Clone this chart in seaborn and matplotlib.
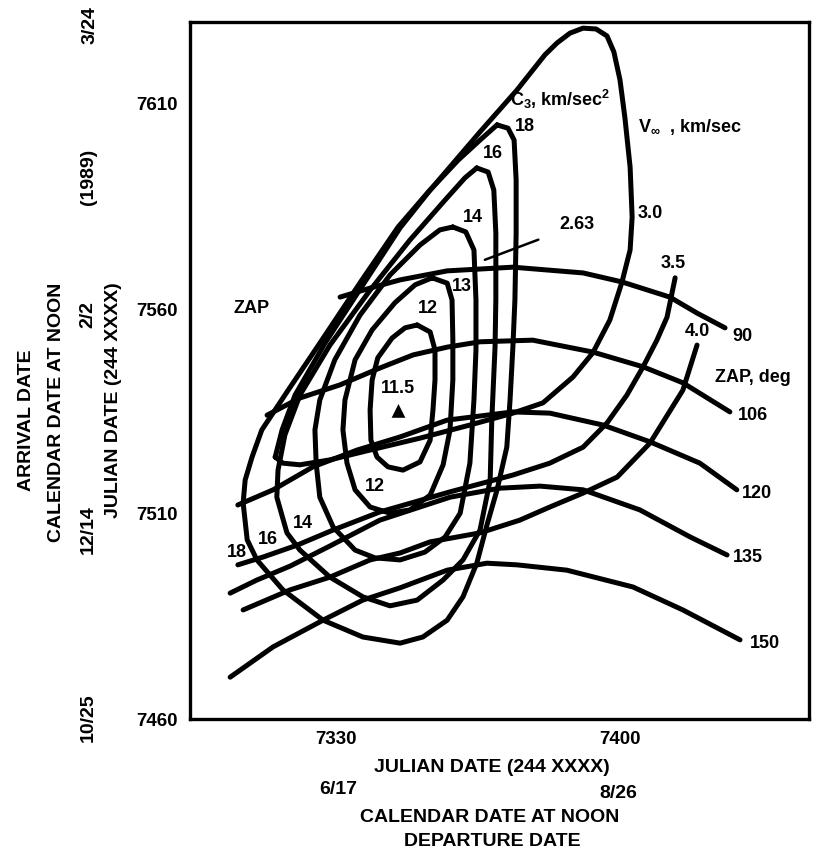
import pandas as pd
import seaborn as sns
import matplotlib.pyplot as plt

# Julian dates (244 xxxx): departure on x, arrival on y

# C3 contours, km/sec^2
c3_12_dep = [7350.0, 7353.2, 7354.4, 7354.4, 7353.9, 7353.2, 7350.7, 7346.5, 7342.8, 7340.1, 7338.6, 7338.4, 7338.9, 7340.3, 7343.8, 7347.0, 7350.0]
c3_12_arr = [7556.1, 7554.4, 7550.0, 7542.7, 7535.4, 7528.0, 7522.7, 7520.7, 7521.5, 7523.9, 7528.0, 7535.4, 7542.7, 7548.1, 7552.9, 7555.4, 7556.1]

c3_13_dep = [7353.7, 7357.4, 7358.6, 7358.8, 7358.8, 7358.1, 7356.4, 7353.2, 7348.2, 7343.3, 7338.4, 7334.7, 7332.7, 7331.7, 7332.2, 7334.7, 7338.9, 7344.5, 7349.5, 7353.7]
c3_13_arr = [7567.6, 7566.3, 7562.2, 7552.4, 7542.7, 7530.5, 7522.0, 7514.6, 7511.0, 7510.2, 7511.7, 7515.9, 7522.4, 7530.5, 7537.8, 7547.6, 7554.9, 7561.5, 7565.9, 7567.6]

c3_14_dep = [7358.8, 7362.0, 7364.0, 7364.5, 7364.5, 7364.0, 7363.0, 7360.6, 7356.9, 7351.9, 7345.8, 7339.6, 7334.7, 7329.3, 7326.0, 7325.1, 7324.8, 7326.0, 7329.7, 7335.9, 7343.3, 7350.7, 7355.6, 7358.8]
c3_14_arr = [7580.0, 7578.8, 7574.4, 7562.2, 7550.0, 7537.8, 7522.4, 7510.2, 7504.4, 7500.7, 7498.8, 7499.3, 7501.2, 7506.8, 7514.1, 7522.4, 7530.5, 7537.8, 7547.6, 7558.5, 7568.3, 7575.6, 7579.3, 7580.0]

c3_16_dep = [7364.7, 7367.5, 7368.9, 7369.4, 7369.4, 7369.2, 7368.4, 7368.0, 7365.5, 7361.3, 7356.4, 7350.0, 7343.3, 7336.6, 7328.5, 7321.1, 7317.9, 7315.4, 7315.7, 7317.4, 7321.1, 7328.5, 7338.4, 7348.2, 7356.9, 7361.8, 7364.7]
c3_16_arr = [7594.4, 7593.4, 7589.0, 7578.5, 7562.2, 7550.7, 7532.9, 7518.3, 7506.1, 7498.8, 7493.9, 7489.0, 7487.6, 7489.8, 7494.6, 7501.2, 7505.4, 7514.1, 7520.7, 7529.3, 7539.0, 7551.2, 7564.6, 7576.8, 7586.6, 7592.0, 7594.4]

c3_18_dep = [7369.7, 7372.4, 7373.9, 7374.4, 7374.4, 7374.1, 7373.6, 7372.9, 7372.1, 7369.7, 7367.2, 7364.7, 7361.3, 7357.4, 7351.4, 7345.8, 7336.6, 7326.8, 7316.9, 7310.5, 7308.1, 7307.1, 7307.6, 7309.3, 7311.7, 7318.2, 7326.5, 7336.4, 7345.3, 7352.7, 7360.1, 7365.5, 7369.7]
c3_18_arr = [7604.9, 7604.1, 7601.2, 7591.5, 7578.5, 7562.2, 7550.7, 7537.8, 7526.3, 7515.9, 7507.3, 7498.0, 7489.8, 7484.1, 7480.0, 7478.5, 7480.0, 7484.1, 7491.5, 7498.8, 7503.7, 7512.7, 7518.3, 7523.9, 7530.5, 7540.2, 7552.4, 7567.1, 7580.0, 7588.5, 7596.3, 7601.2, 7604.9]

# V-infinity contours, km/sec
v30_dep = [7315.0, 7316.7, 7319.9, 7327.3, 7337.1, 7345.8, 7353.2, 7365.5, 7374.6, 7381.5, 7384.5, 7387.7, 7390.9, 7394.1, 7396.8, 7398.5, 7400.0, 7401.2, 7402.5, 7403.0, 7402.5, 7400.5, 7397.5, 7393.3, 7388.4, 7381.0, 7373.6, 7363.0, 7350.7, 7338.4, 7328.5, 7321.1, 7316.9, 7315.0]
v30_arr = [7523.9, 7530.5, 7539.0, 7551.7, 7566.6, 7579.8, 7589.0, 7603.2, 7613.4, 7622.0, 7624.9, 7627.3, 7628.5, 7628.3, 7626.6, 7622.7, 7615.9, 7606.8, 7594.6, 7582.4, 7574.4, 7566.6, 7557.3, 7549.3, 7543.4, 7537.1, 7534.6, 7531.7, 7528.5, 7525.6, 7523.2, 7522.0, 7522.4, 7523.9]

v35_dep = [7305.8, 7312.0, 7320.4, 7329.3, 7340.8, 7358.1, 7373.6, 7382.7, 7390.9, 7396.8, 7401.7, 7405.7, 7409.1, 7411.6, 7413.6]
v35_arr = [7497.6, 7499.5, 7502.4, 7506.1, 7510.5, 7515.4, 7519.5, 7522.4, 7526.3, 7532.2, 7539.0, 7545.9, 7552.4, 7558.0, 7567.6]

v40_dep = [7307.1, 7318.7, 7328.5, 7338.4, 7345.8, 7353.2, 7365.5, 7375.3, 7382.7, 7390.9, 7399.3, 7407.4, 7415.5, 7419.0]
v40_arr = [7486.6, 7491.5, 7494.6, 7498.8, 7500.5, 7503.2, 7505.4, 7508.5, 7511.7, 7515.1, 7519.0, 7527.3, 7540.2, 7551.2]

# ZAP contours, deg
zap90_dep = [7331.0, 7338.4, 7345.8, 7357.4, 7373.6, 7390.9, 7400.5, 7412.3, 7419.0, 7425.9]
zap90_arr = [7562.9, 7565.1, 7567.1, 7569.3, 7570.2, 7568.8, 7566.6, 7562.9, 7559.0, 7555.4]

zap106_dep = [7313.0, 7321.1, 7331.0, 7340.8, 7349.0, 7357.4, 7365.5, 7378.5, 7393.3, 7405.7, 7415.5, 7427.1]
zap106_arr = [7534.1, 7538.3, 7541.5, 7545.6, 7548.8, 7550.7, 7552.0, 7552.4, 7549.5, 7545.9, 7542.0, 7534.9]

zap120_dep = [7305.8, 7314.5, 7324.3, 7335.2, 7345.8, 7357.4, 7373.6, 7382.7, 7395.8, 7407.4, 7419.7, 7428.8]
zap120_arr = [7512.2, 7515.9, 7521.5, 7525.6, 7528.8, 7532.9, 7534.9, 7534.6, 7531.7, 7527.6, 7522.4, 7515.9]

zap135_dep = [7303.9, 7310.5, 7318.7, 7328.5, 7340.8, 7358.1, 7370.4, 7380.3, 7390.9, 7404.9, 7417.3, 7426.4]
zap135_arr = [7490.7, 7493.9, 7497.3, 7502.2, 7508.5, 7514.1, 7516.3, 7516.8, 7515.9, 7511.0, 7504.4, 7500.0]

zap150_dep = [7303.9, 7314.5, 7326.8, 7336.6, 7345.8, 7357.4, 7367.2, 7374.6, 7386.9, 7403.2, 7415.5, 7429.6]
zap150_arr = [7470.2, 7477.6, 7484.1, 7489.0, 7492.0, 7496.3, 7498.0, 7497.6, 7496.3, 7492.2, 7486.6, 7479.3]

# minimum C3 (11.5) point
min_dep = [7345.3]
min_arr = [7535.4]

x_ticks = [7330, 7400]
y_ticks = [7460, 7510, 7560, 7610]

curves = {
    'c3_12': (c3_12_dep, c3_12_arr), 'c3_13': (c3_13_dep, c3_13_arr),
    'c3_14': (c3_14_dep, c3_14_arr), 'c3_16': (c3_16_dep, c3_16_arr),
    'c3_18': (c3_18_dep, c3_18_arr),
    'v30': (v30_dep, v30_arr), 'v35': (v35_dep, v35_arr), 'v40': (v40_dep, v40_arr),
    'zap90': (zap90_dep, zap90_arr), 'zap106': (zap106_dep, zap106_arr),
    'zap120': (zap120_dep, zap120_arr), 'zap135': (zap135_dep, zap135_arr),
    'zap150': (zap150_dep, zap150_arr),
}
rows = []
for name, (d, a) in curves.items():
    for i in range(len(d)):
        rows.append((name, i, d[i], a[i]))
df = pd.DataFrame(rows, columns=['curve', 'idx', 'dep', 'arr'])

sns.set_theme(style='white')
plt.rcParams['font.family'] = ['Liberation Sans', 'DejaVu Sans']
plt.rcParams['font.weight'] = 'bold'
plt.rcParams['text.color'] = 'black'
plt.rcParams['mathtext.fontset'] = 'custom'
plt.rcParams['mathtext.rm'] = 'Liberation Sans:bold'
plt.rcParams['mathtext.default'] = 'rm'

fig = plt.figure(figsize=(8.16, 8.51), dpi=100)
ax = fig.add_axes([190/816, 1-719/851, 619/816, 697/851])

sns.lineplot(data=df, x='dep', y='arr', units='curve', estimator=None, sort=False,
             color='black', lw=3.6, solid_joinstyle='round', solid_capstyle='round', ax=ax)
sns.scatterplot(x=min_dep, y=min_arr, marker='^', s=130, color='black', ax=ax)

ax.set_xlim(7294, 7446.6)
ax.set_ylim(7460, 7630)
ax.set_xticks(x_ticks)
ax.set_yticks(y_ticks)
ax.set_xlabel('')
ax.set_ylabel('')
ax.tick_params(direction='in', length=9, width=2, labelsize=13.5, pad=9,
               color='black', labelcolor='black')
for lab in ax.get_xticklabels() + ax.get_yticklabels():
    lab.set_fontweight('bold')
for sp in ax.spines.values():
    sp.set_linewidth(2.4)
    sp.set_color('black')

fs = 13
kw = dict(fontsize=fs, fontweight='bold', ha='center', va='center', color='black')
# contour labels
ax.text(7430.3, 7553.2, '90', **kw)
ax.text(7432.8, 7543.4, 'ZAP, deg', **kw)
ax.text(7432.8, 7534.1, '106', **kw)
ax.text(7433.8, 7515.1, '120', **kw)
ax.text(7431.5, 7499.5, '135', **kw)
ax.text(7435.7, 7478.5, '150', **kw)
ax.text(7413.1, 7571.2, '3.5', **kw)
ax.text(7419.0, 7554.4, '4.0', **kw)
ax.text(7407.4, 7583.4, '3.0', **kw)
ax.annotate('2.63', xy=(7366.7, 7572.0), xytext=(7389.5, 7580.5), fontsize=fs, fontweight='bold',
            ha='center', va='center', color='black',
            arrowprops=dict(arrowstyle='-', color='black', lw=1.8, shrinkA=14, shrinkB=0))
ax.text(7417.3, 7604.4, r'V$_{\infty}$  , km/sec', **kw)
ax.text(7385.2, 7611.0, r'C$_{3}$, km/sec$^{2}$', **kw)
ax.text(7376.6, 7604.4, '18', **kw)
ax.text(7368.7, 7598.0, '16', **kw)
ax.text(7363.8, 7582.4, '14', **kw)
ax.text(7361.0, 7565.4, '13', **kw)
ax.text(7352.7, 7560.2, '12', **kw)
ax.text(7345.3, 7540.7, '11.5', **kw)
ax.text(7339.6, 7516.6, '12', **kw)
ax.text(7321.9, 7507.8, '14', **kw)
ax.text(7313.2, 7503.7, '16', **kw)
ax.text(7305.6, 7500.7, '18', **kw)
ax.text(7309.3, 7560.2, 'ZAP', **kw)

# outer axis titles
fk = dict(fontsize=14, fontweight='bold', ha='center', va='center', color='black')
fig.text(27/816, 1-420/851, 'ARRIVAL DATE', rotation=90, **fk)
fig.text(57/816, 1-412/851, 'CALENDAR DATE AT NOON', rotation=90, **fk)
fig.text(113/816, 1-400/851, 'JULIAN DATE (244 XXXX)', rotation=90, **fk)
fig.text(90/816, 1-25/851, '3/24', rotation=90, **fk)
fig.text(88/816, 1-177/851, '(1989)', rotation=90, **fk)
fig.text(88/816, 1-315/851, '2/2', rotation=90, **fk)
fig.text(88/816, 1-530/851, '12/14', rotation=90, **fk)
fig.text(88/816, 1-718/851, '10/25', rotation=90, **fk)

fig.text(492/816, 1-768/851, 'JULIAN DATE (244 XXXX)', **fk)
fig.text(338/816, 1-790/851, '6/17', **fk)
fig.text(618/816, 1-794/851, '8/26', **fk)
fig.text(490/816, 1-817/851, 'CALENDAR DATE AT NOON', **fk)
fig.text(492/816, 1-842/851, 'DEPARTURE DATE', **fk)

fig.savefig('out.png', dpi=100, facecolor='white')
